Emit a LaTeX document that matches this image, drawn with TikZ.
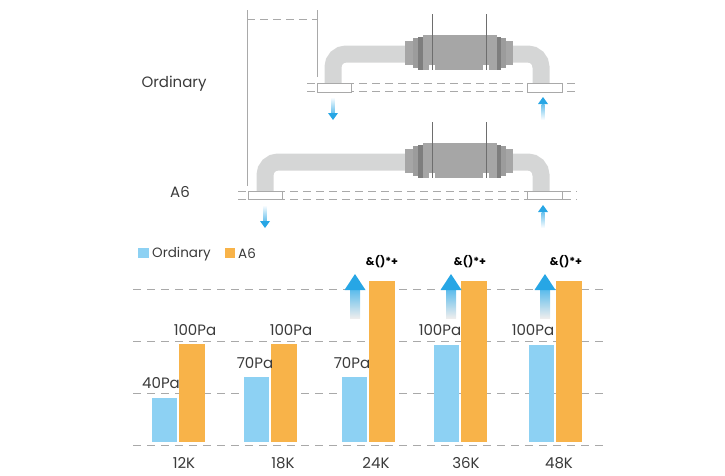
\documentclass[tikz,border=0pt]{standalone}
\usepackage{fontspec}
\setmainfont{Poppins}
\definecolor{pipegray}{HTML}{D5D6D6}
\definecolor{devlight}{HTML}{A6A6A6}
\definecolor{devmid}{HTML}{9C9C9C}
\definecolor{devdark}{HTML}{7E7E7E}
\definecolor{rodgray}{HTML}{6E6E6E}
\definecolor{barblue}{HTML}{8DD1F3}
\definecolor{barorange}{HTML}{F8B349}
\definecolor{flowblue}{HTML}{27A6E5}
\definecolor{txtgray}{HTML}{3A3A3A}
\definecolor{linegray}{HTML}{A9A9A9}

\tikzset{
  pipe/.style={line width=17pt, pipegray, rounded corners=13pt},
  guide/.style={linegray, line width=0.8pt, dash pattern=on 8pt off 5pt},
  gridline/.style={linegray, line width=1pt, dash pattern=on 8pt off 6pt},
  flange/.style={draw=linegray, fill=white, line width=0.9pt},
  lbl/.style={text=txtgray, inner sep=0pt, font=\fontsize{15}{17}\selectfont},
  small/.style={text=txtgray, inner sep=0pt, font=\fontsize{13.5}{15}\selectfont},
  peak/.style={text=black, inner sep=0pt, font=\fontsize{11}{13}\selectfont\bfseries},
}

\newcommand\device[1]{
\begin{scope}[shift={(0,#1)}]
\fill[devlight] (405,41) rectangle (413,65);
\fill[devmid] (413,38) rectangle (418,68);
\fill[devdark] (418,37) rectangle (423,70);
\fill[devlight] (423,35) rectangle (497,70);
\fill[white] (429,65) rectangle (435,71);
\fill[white] (483,65) rectangle (489,71);
\fill[devdark] (497,37) rectangle (501,70);
\fill[devmid] (501,38) rectangle (506,68);
\fill[devlight] (506,41) rectangle (513,65);
\draw[rodgray, line width=1pt] (432,14) -- (432,70);
\draw[rodgray, line width=1pt] (486,14) -- (486,70);
\end{scope}
}
\newcommand\flowdown[3]{
\shade[top color=white, bottom color=flowblue!70] (#1-1.5,#2) rectangle (#1+1.5,#3-7);
\fill[flowblue] (#1-5,#3-7) -- (#1+5,#3-7) -- (#1,#3) -- cycle;
}
\newcommand\flowup[3]{
\shade[bottom color=white, top color=flowblue!70] (#1-1.5,#2) rectangle (#1+1.5,#3+7);
\fill[flowblue] (#1-5,#3+7) -- (#1+5,#3+7) -- (#1,#3) -- cycle;
}
\newcommand\riseup[1]{
\shade[top color=flowblue!75, bottom color=black!7] (#1-5,318) rectangle (#1+5,290);
\fill[flowblue] (#1-10.5,290) -- (#1+10.5,290) -- (#1,274) -- cycle;
}

\begin{document}
\begin{tikzpicture}[x=1pt, y=-1pt]
\useasboundingbox (0,0) rectangle (725,475);

\draw[linegray, line width=0.9pt] (247,10) -- (247,186);
\draw[linegray, line width=0.9pt] (317,10) -- (317,77);
\draw[guide] (247,19) -- (317,19);

\draw[pipe] (333,83) -- (333,54) -- (541,54) -- (541,83);
\device{0}
\draw[guide] (307,83) -- (577,83);
\draw[guide] (307,91) -- (577,91);
\draw[flange] (317,83) rectangle (351,92);
\draw[flange] (527,83) rectangle (562,92);
\flowdown{333}{97}{120}
\flowup{543}{120}{97}

\draw[pipe] (265,191) -- (265,162) -- (541,162) -- (541,191);
\device{108}
\draw[guide] (238,191) -- (577,191);
\draw[guide] (238,199) -- (577,199);
\draw[flange] (248,191) rectangle (282,199);
\draw[flange] (527,191) rectangle (562,199);
\flowdown{265}{205}{228}
\flowup{543}{228}{205}

\node[lbl] (ord) at (174,84) {Ordinary};
\node[lbl] (a6) at (180,192) {A6};

\fill[barblue] (138,248) rectangle (149,258);
\node[small, anchor=west] (keyord) at (152,254) {Ordinary};
\fill[barorange] (225,248) rectangle (235,258);
\node[small, anchor=west] (keya6) at (238,254) {A6};

\foreach \y in {289,341,393,445}
  \draw[gridline] (133,\y) -- (608,\y);

\foreach \x/\b/\o in {152/398/344, 244/377/344, 342/377/281, 434/345/281, 529/345/281}{
  \fill[barblue] (\x,\b) rectangle (\x+25,442);
  \fill[barorange] (\x+27,\o) rectangle (\x+53,442);
}

\foreach \x in {355,451,545}{
  \riseup{\x}
}

\node[lbl] (p1) at (161,383) {40Pa};
\node[lbl] (p2) at (195,330) {100Pa};
\node[lbl] (p3) at (255,363) {70Pa};
\node[lbl] (p4) at (291,330) {100Pa};
\node[lbl] (p5) at (352,363) {70Pa};
\node[lbl] (p6) at (440,330) {100Pa};
\node[lbl] (p7) at (533,330) {100Pa};

\foreach \x [count=\i] in {382,470,566}
  \node[peak] (top\i) at (\x,262) {\&()*+};

\foreach \x/\k [count=\i] in {184/12K, 283/18K, 376/24K, 466/36K, 559/48K}
  \node[lbl] (k\i) at (\x,463) {\k};
\end{tikzpicture}
\end{document}
